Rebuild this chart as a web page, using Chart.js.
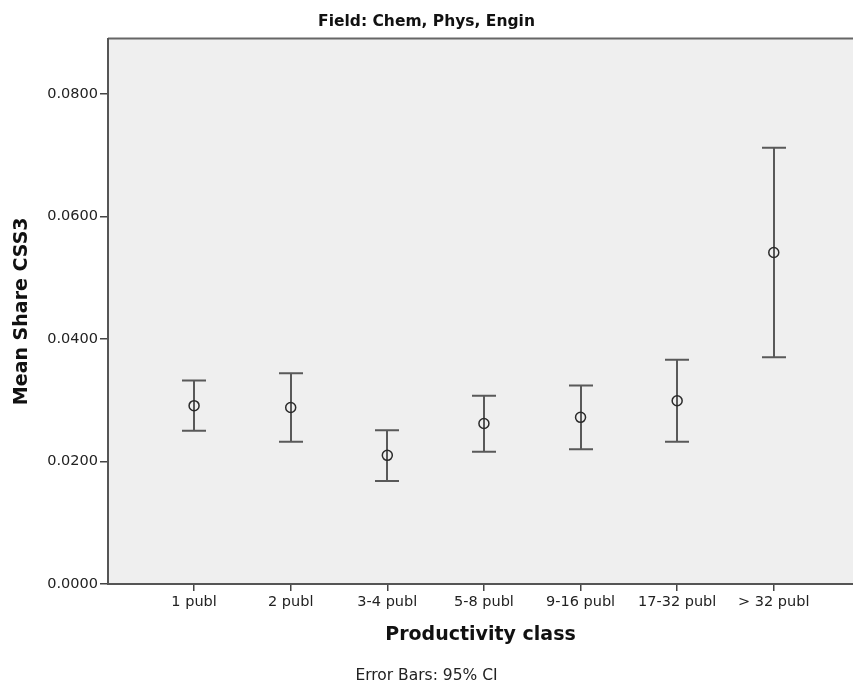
<!DOCTYPE html>
<html>
<head>
<meta charset="utf-8">
<script src="https://cdn.jsdelivr.net/npm/chart.js@4"></script>
<style>
  html, body { margin: 0; padding: 0; background: #fff; }
  #box { width: 853px; height: 686px; }
</style>
</head>
<body>
<div id="box"><canvas id="chart"></canvas></div>
<script>
var categories = ["1 publ", "2 publ", "3-4 publ", "5-8 publ", "9-16 publ", "17-32 publ", "> 32 publ"];
var means = [0.0291, 0.0288, 0.0210, 0.0262, 0.0272, 0.0299, 0.0541];
var lower = [0.0250, 0.0232, 0.0168, 0.0216, 0.0220, 0.0232, 0.0370];
var upper = [0.0332, 0.0344, 0.0251, 0.0307, 0.0324, 0.0366, 0.0712];
var yTicks = [0, 0.02, 0.04, 0.06, 0.08];

var fontFamily = "'DejaVu Sans', 'Liberation Sans', sans-serif";

// gray plot area with top border (drawn before the axes)
var plotBg = {
	id: "plotBg",
	beforeDraw: function (chart) {
		var a = chart.chartArea;
		var ctx = chart.ctx;
		ctx.save();
		ctx.fillStyle = "#efefef";
		ctx.fillRect(a.left, a.top, a.right - a.left, a.bottom - a.top);
		ctx.strokeStyle = "#666";
		ctx.lineWidth = 2;
		ctx.beginPath();
		ctx.moveTo(a.left, a.top);
		ctx.lineTo(a.right, a.top);
		ctx.stroke();
		ctx.restore();
	}
};

// CI whiskers, under the mean circles
var errorBars = {
	id: "errorBars",
	beforeDatasetsDraw: function (chart) {
		var x = chart.scales.x;
		var y = chart.scales.y;
		var ctx = chart.ctx;
		ctx.save();
		ctx.strokeStyle = "#595959";
		ctx.lineWidth = 2;
		for (var i = 0; i < categories.length; i++) {
			var px = Math.round(x.getPixelForValue(i + 1));
			var top = y.getPixelForValue(upper[i]);
			var bot = y.getPixelForValue(lower[i]);
			ctx.beginPath();
			ctx.moveTo(px, top);
			ctx.lineTo(px, bot);
			ctx.moveTo(px - 12, top);
			ctx.lineTo(px + 12, top);
			ctx.moveTo(px - 12, bot);
			ctx.lineTo(px + 12, bot);
			ctx.stroke();
		}
		ctx.restore();
	}
};

var ctx = document.getElementById("chart").getContext("2d");
var myChart = new Chart(ctx, {
	type: "scatter",
	data: {
		datasets: [
			{
				label: "Mean",
				data: means.map(function (m, i) { return { x: i + 1, y: m }; }),
				pointStyle: "circle",
				pointRadius: 5,
				pointBorderWidth: 1.5,
				pointBorderColor: "#2a2a2a",
				pointBackgroundColor: "rgba(0,0,0,0)",
				showLine: false
			}
		]
	},
	options: {
		responsive: true,
		maintainAspectRatio: false,
		animation: false,
		layout: { padding: 0, autoPadding: false },
		plugins: {
			legend: { display: false },
			tooltip: { enabled: false },
			title: {
				display: true,
				text: "Field: Chem, Phys, Engin",
				color: "#111",
				font: { family: fontFamily, size: 15.5, weight: "bold" },
				padding: { top: 13, bottom: 7 }
			},
			subtitle: {
				display: true,
				position: "bottom",
				text: "Error Bars: 95% CI",
				color: "#222",
				font: { family: fontFamily, size: 15.5 },
				padding: { top: 3, bottom: 1 }
			}
		},
		scales: {
			x: {
				type: "linear",
				min: 0.109,
				max: 7.82,
				afterBuildTicks: function (scale) {
					scale.ticks = categories.map(function (c, i) { return { value: i + 1 }; });
				},
				afterFit: function (scale) {
					scale.height = 79.4;
					scale.paddingLeft = 0;
					scale.paddingRight = 0;
				},
				ticks: {
					callback: function (v) { return categories[v - 1]; },
					color: "#222",
					font: { family: fontFamily, size: 14.5 },
					padding: 3,
					maxRotation: 0,
					autoSkip: false
				},
				grid: { drawOnChartArea: false, tickLength: 7, color: "#444", lineWidth: 1.5 },
				border: { display: true, color: "#555", width: 2 },
				title: {
					display: true,
					text: "Productivity class",
					color: "#111",
					font: { family: fontFamily, size: 19, weight: "bold" },
					padding: { top: 4, bottom: 17 }
				}
			},
			y: {
				min: 0,
				max: 0.089,
				afterBuildTicks: function (scale) {
					scale.ticks = yTicks.map(function (v) { return { value: v }; });
				},
				afterFit: function (scale) {
					scale.width = 108;
					scale.paddingTop = 0;
					scale.paddingBottom = 0;
				},
				ticks: {
					callback: function (v) { return v.toFixed(4); },
					color: "#222",
					font: { family: fontFamily, size: 14.5 },
					padding: 2
				},
				grid: { drawOnChartArea: false, tickLength: 8, color: "#444", lineWidth: 1.5 },
				border: { display: true, color: "#555", width: 2 },
				title: {
					display: true,
					text: "Mean Share CSS3",
					color: "#111",
					font: { family: fontFamily, size: 19, weight: "bold" },
					padding: { top: 11, bottom: 4 }
				}
			}
		}
	},
	plugins: [plotBg, errorBars]
});
</script>
</body>
</html>
